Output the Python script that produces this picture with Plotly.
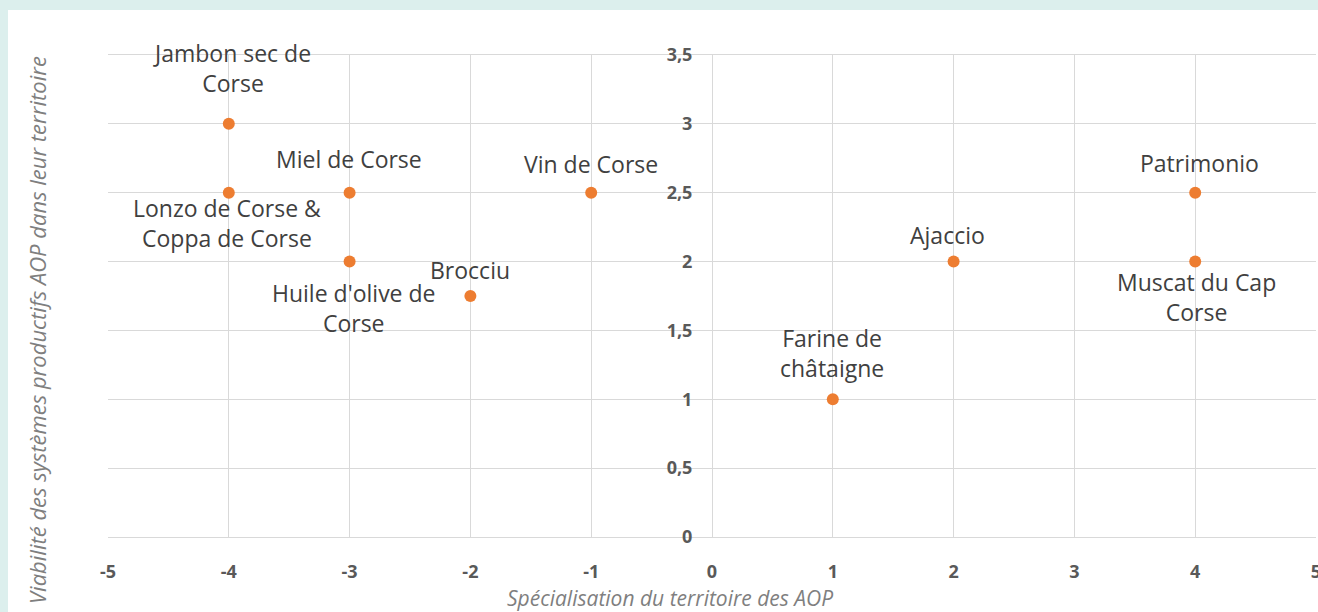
import plotly.graph_objects as go

names = ["Jambon sec de<br>Corse", "Lonzo de Corse &<br>Coppa de Corse", "Miel de Corse",
         "Huile d'olive de<br>Corse", "Brocciu", "Vin de Corse", "Farine de<br>châtaigne",
         "Ajaccio", "Patrimonio", "Muscat du Cap<br>Corse"]
specialisation = [-4, -4, -3, -3, -2, -1, 1, 2, 4, 4]
viabilite = [3, 2.5, 2.5, 2, 1.75, 2.5, 1, 2, 2.5, 2]

x_ticks = [-5, -4, -3, -2, -1, 0, 1, 2, 3, 4, 5]
x_tick_labels = ["-5", "-4", "-3", "-2", "-1", "0", "1", "2", "3", "4", "5"]
y_ticks = [0, 0.5, 1, 1.5, 2, 2.5, 3, 3.5]
y_tick_labels = ["0", "0,5", "1", "1,5", "2", "2,5", "3", "3,5"]

# label placement offsets (pixels): (xshift, yshift)
label_offsets = [(3, 56), (-2, -30), (-1, 34), (4, -46), (0, 26), (0, 29), (-1, 46), (-6, 27), (4, 30), (1, -35)]

W, H = 1318, 612
L, R, T, B = 108, 2, 55, 75
pw, ph = W - L - R, H - T - B

teal = "#dcefed"
fig = go.Figure()
fig.add_trace(go.Scatter(
    x=specialisation, y=viabilite, mode="markers",
    marker=dict(color="#ED7D31", size=12, line=dict(width=0)),
    hoverinfo="skip", showlegend=False))

for n, xv, yv, (dx, dy) in zip(names, specialisation, viabilite, label_offsets):
    fig.add_annotation(x=xv, y=yv, text=n, showarrow=False, xshift=dx, yshift=dy,
                       xanchor="center", yanchor="middle",
                       font=dict(family="Open Sans", size=23, color="#404040"))

# white panel
fig.add_shape(type="rect", xref="paper", yref="paper",
              x0=(8 - L) / pw, x1=1.05, y0=-0.3, y1=1 + (T - 10) / ph,
              fillcolor="white", line=dict(width=0), layer="below")

fig.add_annotation(xref="paper", yref="paper", x=(37 - L) / pw, y=(H - B - 330) / ph,
                   text="Viabilité des systèmes productifs AOP dans leur territoire",
                   textangle=-90, showarrow=False, xanchor="center", yanchor="middle",
                   font=dict(family="Open Sans", size=22, color="#7f7f7f", style="italic"))
fig.add_annotation(xref="paper", yref="paper", x=(670 - L) / pw, y=-(598 - (H - B)) / ph,
                   text="Spécialisation du territoire des AOP", showarrow=False,
                   xanchor="center", yanchor="middle",
                   font=dict(family="Open Sans", size=21, color="#7f7f7f", style="italic"))

grid = "#d9d9d9"
fig.update_layout(
    width=W, height=H,
    margin=dict(l=L, r=R, t=T, b=B, pad=0, autoexpand=False),
    paper_bgcolor=teal, plot_bgcolor="rgba(0,0,0,0)",
    xaxis=dict(range=[-5, 5], tickvals=x_ticks, ticktext=x_tick_labels, showgrid=True,
               gridcolor=grid, gridwidth=1, ticklabeloverflow="allow", automargin=False,
               zeroline=False, showline=True, linecolor=grid, mirror=True,
               ticks="outside", ticklen=18, tickcolor="rgba(0,0,0,0)",
               tickfont=dict(family="Open Sans", size=18, color="#595959", weight="bold")),
    yaxis=dict(range=[0, 3.5], tickvals=y_ticks, ticktext=y_tick_labels, anchor="free",
               position=0.5, showgrid=True, gridcolor=grid, gridwidth=1, zeroline=False,
               showline=True, linecolor=grid, automargin=False,
               ticks="outside", ticklen=16, tickcolor="rgba(0,0,0,0)",
               tickfont=dict(family="Open Sans", size=18, color="#595959", weight="bold")),
)
fig.write_html("out.html", config={"displayModeBar": False},
               post_script="document.body.style.margin='0';document.body.style.background='%s';" % teal)
